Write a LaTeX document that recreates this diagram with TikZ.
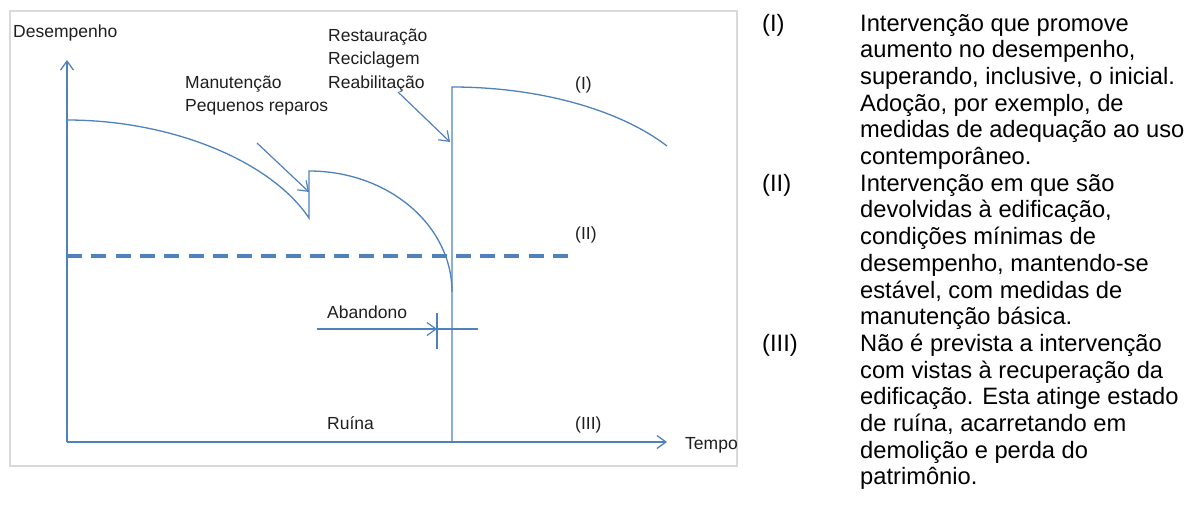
\documentclass[tikz,border=0pt]{standalone}
\usepackage{fontspec}
\setmainfont{Liberation Sans}
\usetikzlibrary{arrows.meta}
\definecolor{lineblue}{RGB}{79,129,189}
\definecolor{framegray}{RGB}{217,217,217}
\definecolor{txt}{RGB}{30,30,30}
\begin{document}
\begin{tikzpicture}[x=1pt,y=-1pt,
  curve/.style={lineblue, line width=1.3pt},
  thin line/.style={lineblue, line width=1.1pt},
  axis/.style={lineblue, line width=1.3pt, -{Straight Barb[length=9pt,width=13pt]}},
  pointer/.style={lineblue, line width=1.2pt, -{Straight Barb[length=9pt,width=13pt]}},
  lbl/.style={anchor=base west, inner sep=0pt, text=txt, font=\fontsize{17.5}{23.5}\selectfont},
  desc/.style={anchor=base west, inner sep=0pt, text=black, font=\fontsize{23.7}{26.7}\selectfont},
]
\useasboundingbox (0,0) rectangle (1196,504);
\draw[framegray, line width=1.5pt] (10,11) rectangle (737,466);

% key points
\coordinate (O) at (67,442);
\coordinate (ytip) at (67,60);
\coordinate (xtip) at (667,442);
\coordinate (c1s) at (67,120);
\coordinate (c1e) at (309,218);
\coordinate (c2s) at (309,171);
\coordinate (c2e) at (452,292);
\coordinate (vb) at (452,442);
\coordinate (c3s) at (452,87);
\coordinate (c3e) at (667,146);
\coordinate (ds) at (67,256);
\coordinate (de) at (568,256);
\coordinate (m1) at (257,143);
\coordinate (m2) at (309,192);
\coordinate (r1) at (398,92);
\coordinate (r2) at (450,142);
\coordinate (a1) at (317,329);
\coordinate (a2) at (437,329);
\coordinate (a3) at (478,329);
\coordinate (t1) at (437,313);
\coordinate (t2) at (437,349);

% dashed level (II)
\draw[lineblue, line width=4pt, dash pattern=on 15pt off 9.3pt] (ds) -- (de);

% axes
\draw[axis] (O) -- (ytip);
\draw[axis] (O) -- (xtip);

% performance curves
\draw[curve] (c1s) .. controls (170,120) and (270,160) .. (c1e) -- (c2s)
  .. controls (388,171) and (452,225) .. (c2e);
\draw[curve] (vb) -- (c3s) .. controls (540,87) and (620,110) .. (c3e);

% pointers
\draw[pointer] (m1) -- (m2);
\draw[pointer] (r1) -- (r2);
\draw[pointer] (a1) -- (a2);
\draw[thin line] (a2) -- (a3);
\draw[thin line] (t1) -- (t2);

% labels in the chart
\node[lbl] (desemp) at (13,37) {Desempenho};
\node[lbl] (restaur) at (328,41) {\parbox[t]{120pt}{Restauração\\Reciclagem\\Reabilitação}};
\node[lbl] (manut) at (185,88) {\parbox[t]{150pt}{Manutenção\\Pequenos reparos}};
\node[lbl] (lI) at (575,89) {(I)};
\node[lbl] (lII) at (575,239) {(II)};
\node[lbl] (aband) at (327,318) {Abandono};
\node[lbl] (ruina) at (327,429) {Ruína};
\node[lbl] (lIII) at (575,429) {(III)};
\node[lbl] (tempo) at (685,449) {Tempo};

% description
\node[desc] (tI) at (762,31) {(I)};
\node[desc] (dI) at (860,31) {\parbox[t]{340pt}{\raggedright Intervenção que promove\\aumento no desempenho,\\superando, inclusive, o inicial.\\Adoção, por exemplo, de\\medidas de adequação ao uso\\contemporâneo.}};
\node[desc] (tII) at (762,191.2) {(II)};
\node[desc] (dII) at (860,191.2) {\parbox[t]{340pt}{\raggedright Intervenção em que são\\devolvidas à edificação,\\condições mínimas de\\desempenho, mantendo-se\\estável, com medidas de\\manutenção básica.}};
\node[desc] (tIII) at (762,351.4) {(III)};
\node[desc] (dIII) at (860,351.4) {\parbox[t]{340pt}{\raggedright Não é prevista a intervenção\\com vistas à recuperação da\\edificação. Esta atinge estado\\de ruína, acarretando em\\demolição e perda do\\patrimônio.}};
\end{tikzpicture}
\end{document}
